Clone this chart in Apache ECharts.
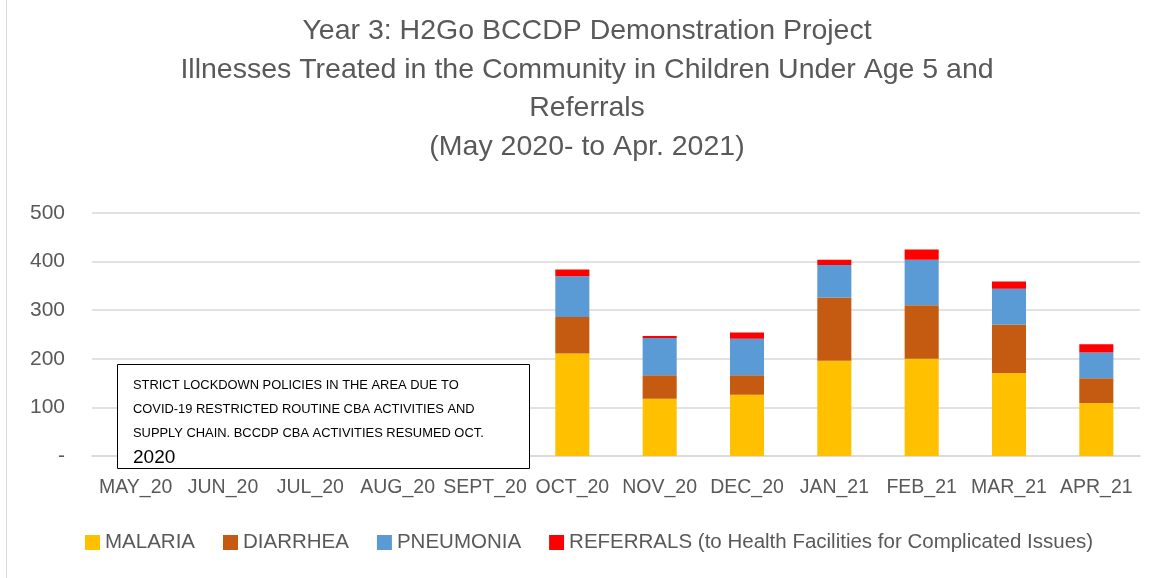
<!DOCTYPE html>
<html>
<head>
<meta charset="utf-8">
<script src="https://cdn.jsdelivr.net/npm/echarts@6/dist/echarts.min.js"></script>
<style>
  html, body { margin: 0; padding: 0; background: #fff; }
  #chart { width: 1157px; height: 578px; }
</style>
</head>
<body>
<div id="chart"></div>
<script>
// months on the x axis
const months = ['MAY_20', 'JUN_20', 'JUL_20', 'AUG_20', 'SEPT_20', 'OCT_20',
  'NOV_20', 'DEC_20', 'JAN_21', 'FEB_21', 'MAR_21', 'APR_21']

// cases per month (no activity May-Sept 2020)
const malaria = [0, 0, 0, 0, 0, 211, 118, 126, 196, 200, 171, 109]
const diarrhea = [0, 0, 0, 0, 0, 75, 48, 40, 130, 110, 99, 51]
const pneumonia = [0, 0, 0, 0, 0, 84, 77, 75, 67, 94, 74, 53]
const referrals = [0, 0, 0, 0, 0, 14, 4, 13, 11, 21, 15, 17]

const seriesNames = ['MALARIA', 'DIARRHEA', 'PNEUMONIA',
  'REFERRALS (to Health Facilities for Complicated Issues)']
const colors = ['#FFC000', '#C55A11', '#5B9BD5', '#FF0000']

const font = 'Liberation Sans, Arial, sans-serif'
const grey = '#595959'

const chart = echarts.init(document.getElementById('chart'))

const opt = {
  animation: false,
  title: {
    text: 'Year 3: H2Go BCCDP Demonstration Project\nIllnesses Treated in the Community in Children Under Age 5 and\nReferrals\n(May 2020- to Apr. 2021)',
    left: 582,
    textAlign: 'center',
    top: 7,
    textStyle: {
      fontFamily: font,
      fontSize: 28.5,
      fontWeight: 'normal',
      color: grey,
      lineHeight: 38.5
    }
  },
  // 布局
  grid: {
    left: 92,
    right: 17,
    top: 213,
    bottom: 122
  },
  legend: {
    left: 80,
    top: 527,
    itemWidth: 15,
    itemHeight: 15,
    itemGap: 28,
    icon: 'rect',
    textStyle: { fontFamily: font, fontSize: 20.5, color: grey },
    data: seriesNames
  },
  xAxis: {
    type: 'category',
    data: months,
    axisTick: { show: false },
    axisLine: { lineStyle: { color: '#d9d9d9', width: 1.5 } },
    axisLabel: {
      interval: 0,
      margin: 22,
      fontFamily: font,
      fontSize: 19.5,
      color: grey
    }
  },
  yAxis: {
    type: 'value',
    min: 0,
    max: 500,
    interval: 100,
    axisLine: { show: false },
    axisTick: { show: false },
    splitLine: { lineStyle: { color: '#d9d9d9', width: 1.5 } },
    axisLabel: {
      margin: 27,
      fontFamily: font,
      fontSize: 21,
      color: grey,
      formatter: v => (v === 0 ? '-' : v)
    }
  },
  series: [malaria, diarrhea, pneumonia, referrals].map((d, i) => ({
    name: seriesNames[i],
    type: 'bar',
    stack: 'total',
    barWidth: '39%',
    data: d,
    itemStyle: { color: colors[i] }
  })),
  // 注释框
  graphic: [
    {
      type: 'rect',
      left: 117,
      top: 364,
      shape: { width: 412, height: 104 },
      style: { fill: '#fff', stroke: '#000', lineWidth: 1 },
      z: 100
    },
    {
      type: 'text',
      left: 133,
      top: 373,
      z: 101,
      style: {
        text: 'STRICT LOCKDOWN POLICIES IN THE AREA DUE TO\nCOVID-19 RESTRICTED ROUTINE CBA ACTIVITIES AND\nSUPPLY CHAIN. BCCDP CBA ACTIVITIES RESUMED OCT.',
        font: '12.9px ' + font,
        fill: '#000',
        lineHeight: 24
      }
    },
    {
      type: 'text',
      left: 133,
      top: 448,
      z: 101,
      style: { text: '2020', font: '19px ' + font, fill: '#000' }
    },
    {
      type: 'rect',
      left: 6,
      top: 0,
      shape: { width: 1, height: 578 },
      style: { fill: '#d9d9d9' }
    }
  ]
}

chart.setOption(opt)
</script>
</body>
</html>
